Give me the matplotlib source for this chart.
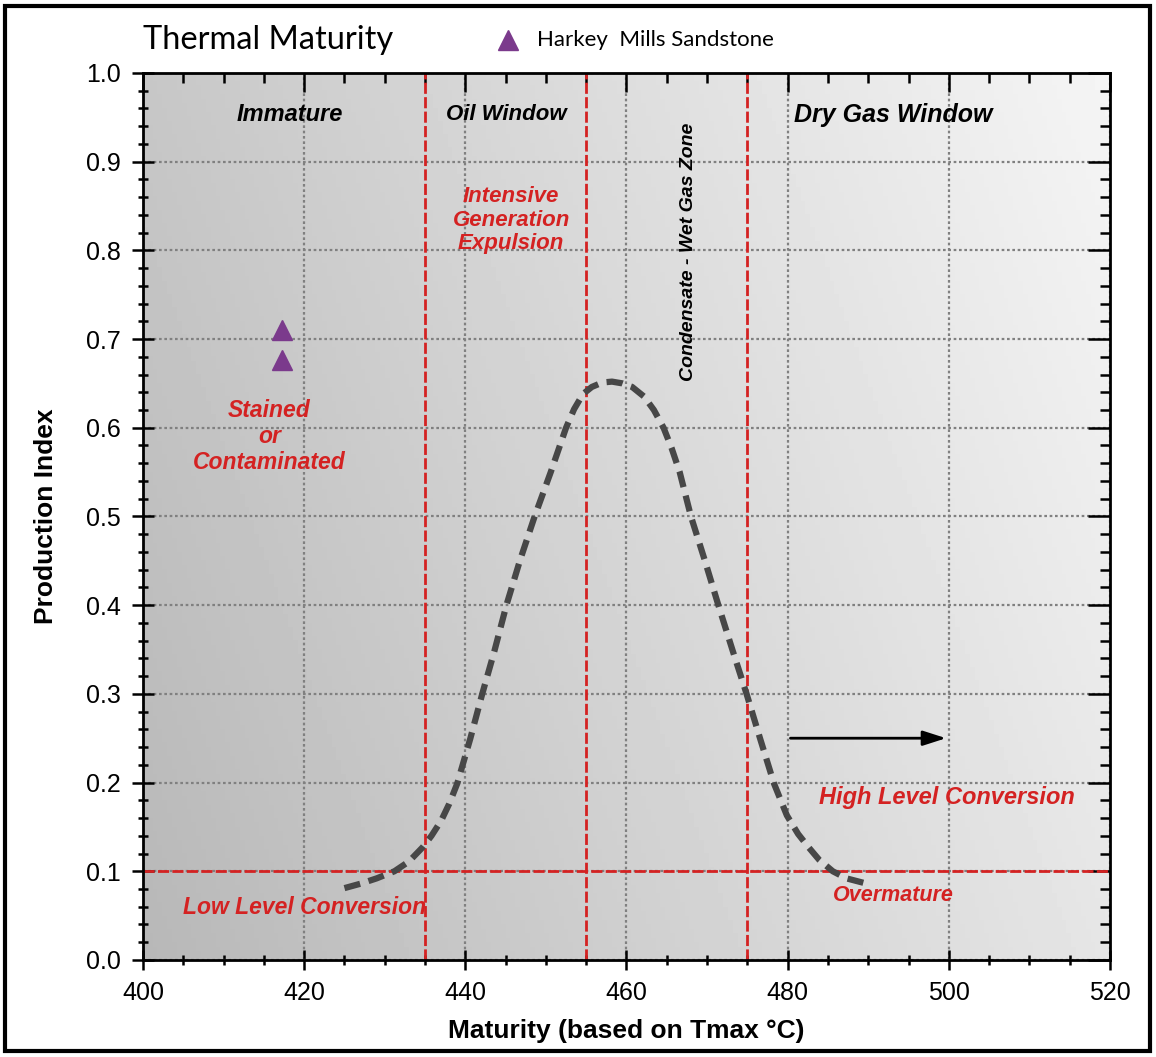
import numpy as np
import matplotlib
matplotlib.use("Agg")
import matplotlib.pyplot as plt
from matplotlib.patches import Rectangle
from matplotlib.ticker import MultipleLocator

plt.rcParams['font.family'] = ['Liberation Sans', 'DejaVu Sans']

# data
curve_x = [425.0, 427.0, 429.0, 431.2, 433.0, 434.7, 435.8, 437.0, 438.0, 439.0,
           440.6, 442.1, 443.6, 445.1, 446.8, 448.6, 450.6, 452.5, 453.5, 454.6,
           455.7, 457.0, 458.2, 459.5, 460.7, 462.2, 463.4, 464.6, 465.6, 466.6,
           468.0, 469.7, 471.4, 473.2, 474.9, 476.6, 478.3, 479.9, 481.3, 482.6,
           483.9, 485.6, 487.3, 489.4]
curve_y = [0.081, 0.086, 0.092, 0.100, 0.111, 0.127, 0.140, 0.157, 0.176, 0.199,
           0.249, 0.300, 0.348, 0.400, 0.451, 0.500, 0.550, 0.600, 0.621, 0.638,
           0.646, 0.651, 0.652, 0.650, 0.646, 0.635, 0.620, 0.600, 0.577, 0.550,
           0.500, 0.451, 0.400, 0.348, 0.300, 0.249, 0.199, 0.163, 0.142, 0.127,
           0.113, 0.100, 0.092, 0.087]

sample_x = [417.3, 417.2]
sample_y = [0.710, 0.676]
sample_name = "Harkey  Mills Sandstone"

window_bounds = [435, 455, 475]
pi_cutoff = 0.1

zone_labels = ["Immature", "Oil Window", "Dry Gas Window"]
zone_x = [418.2, 445.1, 493.1]
zone_size = [17, 16, 18]

red = '#d42222'

fig = plt.figure(figsize=(11.56, 10.57), dpi=100)
ax = fig.add_axes([0.1237, 0.0918, 0.8365, 0.8392])

# grey gradient background
gx, gy = np.meshgrid(np.linspace(0, 1, 200), np.linspace(0, 1, 200))
grad = 0.72 + 0.18 * gx + 0.06 * gy
ax.imshow(grad, extent=[400, 520, 0, 1], origin='lower', cmap='gray',
          vmin=0, vmax=1, aspect='auto', zorder=0)

ax.set_xlim(400, 520)
ax.set_ylim(0, 1.0)
ax.xaxis.set_major_locator(MultipleLocator(20))
ax.xaxis.set_minor_locator(MultipleLocator(5))
ax.yaxis.set_major_locator(MultipleLocator(0.1))
ax.yaxis.set_minor_locator(MultipleLocator(0.02))
ax.yaxis.set_major_formatter(plt.FormatStrFormatter('%.1f'))

ax.grid(True, which='major', color='#808080', linestyle=(0, (1.2, 1.2)), linewidth=1.6, zorder=1)

for b in window_bounds:
    ax.axvline(b, color=red, linestyle=(0, (4, 1.2)), linewidth=2, zorder=2)
ax.axhline(pi_cutoff, color=red, linestyle=(0, (4, 1.2)), linewidth=2, zorder=2)

ax.plot(curve_x, curve_y, color='#474747', linewidth=4.5, dashes=(2.6, 1.4),
        solid_joinstyle='round', dash_joinstyle='round', zorder=3)

ax.plot(sample_x, sample_y, linestyle='none', marker='^', markersize=15,
        color='#7b3a8c', zorder=4)

ax.annotate('', xy=(500, 0.25), xytext=(480, 0.25),
            arrowprops=dict(arrowstyle='-|>,head_length=1.4,head_width=0.45',
                            color='black', linewidth=2), zorder=4)

for lab, x, fs in zip(zone_labels, zone_x, zone_size):
    ax.text(x, 0.953, lab, ha='center', va='center', fontsize=fs,
            fontweight='bold', fontstyle='italic', color='black', zorder=5)
ax.text(467.7, 0.798, 'Condensate - Wet Gas Zone', rotation=90, ha='center', va='center',
        fontsize=14, fontweight='bold', fontstyle='italic', color='black', zorder=5)

red_kw = dict(ha='center', va='center', fontweight='bold',
              fontstyle='italic', color=red, zorder=5, linespacing=1.15)
ax.text(445.7, 0.834, 'Intensive\nGeneration\nExpulsion', fontsize=16, **red_kw)
ax.text(415.7, 0.590, 'Stained\nor\nContaminated', fontsize=16.5, **red_kw)
ax.text(420.1, 0.059, 'Low Level Conversion', fontsize=16.5, **red_kw)
ax.text(499.7, 0.183, 'High Level Conversion', fontsize=17, **red_kw)
ax.text(493.1, 0.073, 'Overmature', fontsize=15.5, **red_kw)

for s in ax.spines.values():
    s.set_linewidth(2)
ax.tick_params(which='both', top=True, right=True, width=1.8, labelsize=18)
ax.tick_params(axis='y', which='major', left=True, direction='inout', length=16, pad=8)
ax.tick_params(axis='y', which='minor', direction='inout', length=7)
ax.tick_params(axis='x', which='major', direction='inout', length=14, pad=8)
ax.tick_params(axis='x', which='minor', direction='inout', length=7)
# top / right ticks point inward only
for t in ax.xaxis.get_major_ticks() + ax.xaxis.get_minor_ticks():
    t.tick2line.set_marker(3)
for t in ax.yaxis.get_major_ticks() + ax.yaxis.get_minor_ticks():
    t.tick2line.set_marker(0)

ax.set_xlabel('Maturity (based on Tmax °C)', fontsize=19, fontweight='bold', labelpad=10)
ax.set_ylabel('Production Index', fontsize=19, fontweight='bold', labelpad=20)

fig.text(0.124, 1 - 49 / 1057, 'Thermal Maturity', fontsize=23.5, family=['Lato', 'DejaVu Sans'],
         ha='left', va='baseline')
fig.lines.append(plt.Line2D([508 / 1156], [1 - 40 / 1057], transform=fig.transFigure,
                            marker='^', markersize=14, color='#7b3a8c', linestyle='none'))
fig.text(537 / 1156, 1 - 40 / 1057, sample_name, fontsize=16, family=['Lato', 'DejaVu Sans'],
         ha='left', va='center')

fig.patches.append(Rectangle((0.004, 0.006), 0.991, 0.988, transform=fig.transFigure,
                             fill=False, edgecolor='black', linewidth=3))

fig.savefig('out.png', dpi=100)
